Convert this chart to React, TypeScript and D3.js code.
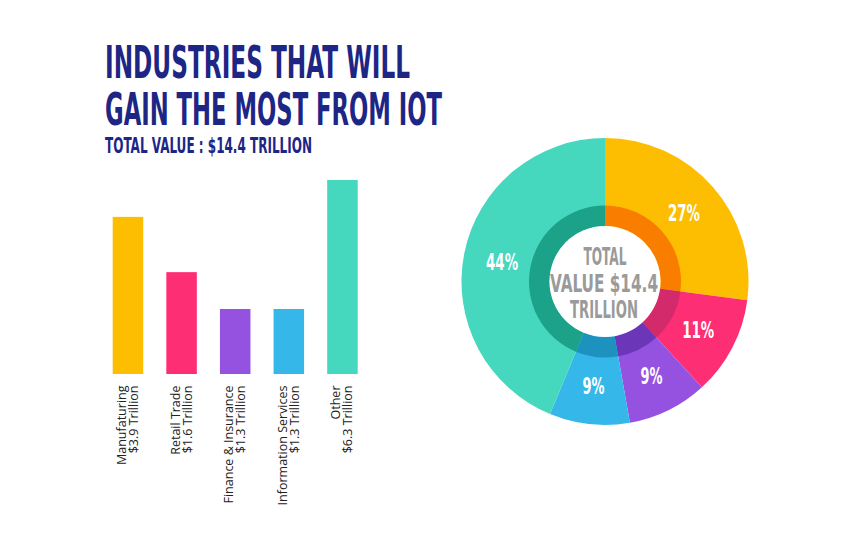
import React from "react";
import * as d3 from "d3";

const categories = ["Manufaturing", "Retail Trade", "Finance & Insurance", "Information Services", "Other"];
const valueLabels = ["$3.9 Trillion", "$1.6 Trillion", "$1.3 Trillion", "$1.3 Trillion", "$6.3 Trillion"];
const values = [3.9, 1.6, 1.3, 1.3, 6.3];
// relative bar heights as drawn in the reference (not proportional to values)
const barHeights = [81, 52.5, 33.5, 33.5, 100];
const colors = ["#FDBD00", "#FD2E74", "#9552E1", "#36B7E9", "#46D7BF"];
const darkColors = ["#F97E00", "#D32A6B", "#6B37B8", "#1E92BE", "#1CA288"];
const percentLabels = ["27%", "11%", "9%", "9%", "44%"];

const W = 850, H = 550;
const condensed = "'Liberation Sans Narrow', 'DejaVu Sans Condensed', 'Roboto', sans-serif";
const navy = "#1D2685";

export default function App() {
  const x = d3.scaleBand<string>().domain(categories).range([112.7, 357.7]).paddingInner(0.431).paddingOuter(0);
  const barBottom = 374;
  const y = d3.scaleLinear().domain([0, 100]).range([barBottom, 180]);

  const cx = 605, cy = 281.5;
  const pie = d3.pie<number>().sort(null).value((d) => d)(values);
  const outerArc = d3.arc<d3.PieArcDatum<number>>().innerRadius(0).outerRadius(143.5);
  const ringArc = d3.arc<d3.PieArcDatum<number>>().innerRadius(55.5).outerRadius(76);
  const labelArc = d3.arc<d3.PieArcDatum<number>>().innerRadius(105).outerRadius(105);

  return (
    <svg width={W} height={H} style={{ position: "absolute", left: 0, top: 0, background: "#fff" }}>
      <rect width={W} height={H} fill="#fff" />
      {/* Title */}
      <text x={105} y={78} fill={navy} fontFamily={condensed} fontWeight="bold" fontSize={45}
        textLength={305} lengthAdjust="spacingAndGlyphs">INDUSTRIES THAT WILL</text>
      <text x={105} y={124.5} fill={navy} fontFamily={condensed} fontWeight="bold" fontSize={45}
        textLength={337} lengthAdjust="spacingAndGlyphs">GAIN THE MOST FROM IOT</text>
      <text x={105} y={152.5} fill={navy} fontFamily={condensed} fontWeight="bold" fontSize={22}
        textLength={207} lengthAdjust="spacingAndGlyphs">TOTAL VALUE : $14.4 TRILLION</text>

      {/* Bars */}
      {categories.map((c, i) => (
        <rect key={c} x={x(c)} y={y(barHeights[i])} width={x.bandwidth()} height={barBottom - y(barHeights[i])} fill={colors[i]} />
      ))}
      {categories.map((c, i) => {
        const mx = (x(c) as number) + x.bandwidth() / 2;
        return (
          <g key={"l" + c} fontFamily="'Open Sans', 'Noto Sans', sans-serif" fontSize={12.5} fill="#222">
            <text transform={`translate(${mx - 2},385.5) rotate(-90)`} textAnchor="end">{c}</text>
            <text transform={`translate(${mx + 10},385.5) rotate(-90)`} textAnchor="end">{valueLabels[i]}</text>
          </g>
        );
      })}

      {/* Donut */}
      <g transform={`translate(${cx},${cy})`}>
        {pie.map((p, i) => (
          <path key={"o" + i} d={outerArc(p) as string} fill={colors[i]} />
        ))}
        {pie.map((p, i) => (
          <path key={"r" + i} d={ringArc(p) as string} fill={darkColors[i]} />
        ))}
        <circle r={55.5} fill="#fff" />
        {pie.map((p, i) => {
          const [lx, ly] = labelArc.centroid(p);
          return (
            <text key={"p" + i} x={lx} y={ly + 8.5} textAnchor="middle" fill="#fff" fontFamily={condensed}
              fontWeight="bold" fontSize={23} textLength={percentLabels[i].length === 3 ? 32 : 22}
              lengthAdjust="spacingAndGlyphs">{percentLabels[i]}</text>
          );
        })}
        <g fill="#9A9A9A" fontFamily={condensed} fontWeight="bold" fontSize={24} textAnchor="middle">
          <text x={0} y={-16.5} textLength={43} lengthAdjust="spacingAndGlyphs">TOTAL</text>
          <text x={-1} y={10.5} textLength={108} lengthAdjust="spacingAndGlyphs">VALUE $14.4</text>
          <text x={-1} y={36.5} textLength={68} lengthAdjust="spacingAndGlyphs">TRILLION</text>
        </g>
      </g>
    </svg>
  );
}
